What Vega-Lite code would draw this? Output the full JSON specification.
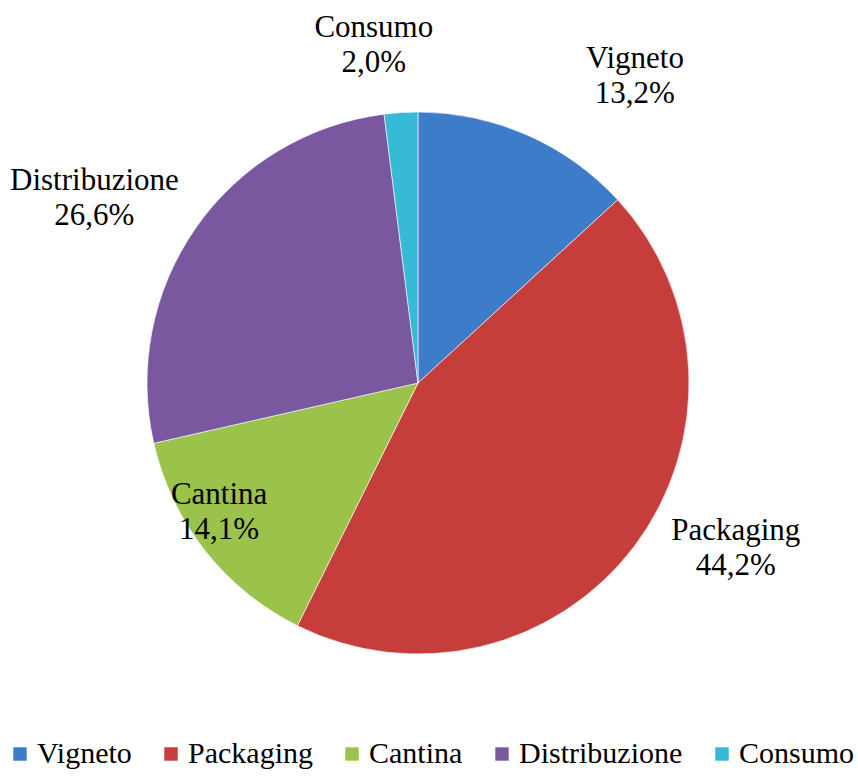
{
  "$schema": "https://vega.github.io/schema/vega-lite/v6.json",
  "width": 858,
  "height": 776,
  "autosize": "none",
  "padding": 0,
  "background": "white",
  "config": {"view": {"stroke": null}, "font": "Liberation Serif",
    "legend": {"labelFont": "Liberation Serif", "labelFontSize": 30, "labelColor": "#000000"}},
  "data": {"values": [
    {"cat": "Vigneto", "pct": 13.2, "idx": 1},
    {"cat": "Packaging", "pct": 44.2, "idx": 2},
    {"cat": "Cantina", "pct": 14.1, "idx": 3},
    {"cat": "Distribuzione", "pct": 26.6, "idx": 4},
    {"cat": "Consumo", "pct": 2.0, "idx": 5}
  ]},
  "transform": [
    {"calculate": "datum.cat + '\\n' + replace(format(datum.pct, '.1f'), '.', ',') + '%'", "as": "lab"}
  ],
  "encoding": {
    "theta": {"field": "pct", "type": "quantitative", "stack": true},
    "order": {"field": "idx", "type": "quantitative"}
  },
  "layer": [
    {
      "mark": {"type": "arc", "x": 418, "y": 383, "outerRadius": 271, "stroke": "#ffffff", "strokeWidth": 1, "strokeOpacity": 0.6},
      "encoding": {
        "color": {
          "field": "cat", "type": "nominal",
          "sort": ["Vigneto", "Packaging", "Cantina", "Distribuzione", "Consumo"],
          "scale": {"domain": ["Vigneto", "Packaging", "Cantina", "Distribuzione", "Consumo"],
                    "range": ["#3D7CC9", "#C63E3B", "#9BC24A", "#7A58A0", "#36BAD6"]},
          "legend": {
            "title": null, "orient": "none", "direction": "horizontal",
            "legendX": 5, "legendY": 739,
            "symbolType": "square", "symbolSize": 180, "symbolStrokeWidth": 0,
            "labelFont": "Liberation Serif", "labelFontSize": 30, "labelColor": "#000000",
            "labelLimit": 400, "columnPadding": 24, "symbolOffset": 0, "labelOffset": 2
          }
        }
      }
    },
    {
      "mark": {"type": "text", "x": 418, "y": 383, "radius": 350, "dx": 76, "dy": -4, "fontSize": 31, "lineBreak": "\n", "lineHeight": 35, "align": "center", "baseline": "middle", "color": "#000000"},
      "encoding": {"text": {"condition": {"test": "datum.cat == 'Vigneto'", "field": "lab"}, "value": ""}}
    },
    {
      "mark": {"type": "text", "x": 418, "y": 383, "radius": 340, "dx": 46, "dy": -56, "fontSize": 31, "lineBreak": "\n", "lineHeight": 35, "align": "center", "baseline": "middle", "color": "#000000"},
      "encoding": {"text": {"condition": {"test": "datum.cat == 'Packaging'", "field": "lab"}, "value": ""}}
    },
    {
      "mark": {"type": "text", "x": 418, "y": 383, "radius": 220, "dx": -26, "dy": -24, "fontSize": 31, "lineBreak": "\n", "lineHeight": 35, "align": "center", "baseline": "middle", "color": "#000000"},
      "encoding": {"text": {"condition": {"test": "datum.cat == 'Cantina'", "field": "lab"}, "value": ""}}
    },
    {
      "mark": {"type": "text", "x": 418, "y": 383, "radius": 340, "dx": -45, "dy": -7, "fontSize": 31, "lineBreak": "\n", "lineHeight": 35, "align": "center", "baseline": "middle", "color": "#000000"},
      "encoding": {"text": {"condition": {"test": "datum.cat == 'Distribuzione'", "field": "lab"}, "value": ""}}
    },
    {
      "mark": {"type": "text", "x": 418, "y": 383, "radius": 338, "dx": -23, "dy": -18, "fontSize": 31, "lineBreak": "\n", "lineHeight": 35, "align": "center", "baseline": "middle", "color": "#000000"},
      "encoding": {"text": {"condition": {"test": "datum.cat == 'Consumo'", "field": "lab"}, "value": ""}}
    }
  ]
}
